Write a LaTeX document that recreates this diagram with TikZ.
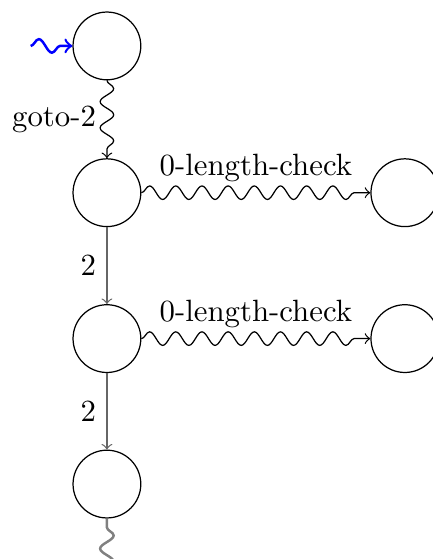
\documentclass[tikz,border=0pt]{standalone}
\usetikzlibrary{decorations.pathmorphing}
\begin{document}
\begin{tikzpicture}[
        state/.style = {draw, circle, minimum size = 22pt, inner sep = 0pt},
        wavy/.style = {decorate, decoration = {snake, amplitude = 2.2pt, segment length = 8.5pt, post length = 1mm}},
        plain/.style = {draw = gray!80!black}
    ]
                \useasboundingbox (-1.22,0.524) rectangle (3.72,-5.855);
                \node[state] (s0) at (0,0) {};
                \node[state] (s1) at (0,-1.675) {};
                \node[state] (s2) at (0,-3.34) {};
                \node[state] (s3) at (0,-5.0) {};
                \node[state] (c1) at (3.40,-1.675) {};
                \node[state] (c2) at (3.40,-3.34) {};
                \coordinate (in) at (-0.87,0);
                \coordinate (out) at (0,-6.2);
                \draw[->, blue, thick, wavy] (in) -- (s0);
                \draw[->, wavy] (s0) -- node[left] {goto-2} (s1);
                \draw[->, wavy] (s1) -- node[above] {0-length-check} (c1);
                \draw[->, wavy] (s2) -- node[above] {0-length-check} (c2);
                \draw[->, plain] (s1) -- node[left] {2} (s2);
                \draw[->, plain] (s2) -- node[left] {2} (s3);
                \draw[->, gray, thick, decorate, decoration = {snake, amplitude = 2.2pt, segment length = 8.5pt, pre length = 1mm}] (s3) -- (out);
            \end{tikzpicture}
\end{document}
